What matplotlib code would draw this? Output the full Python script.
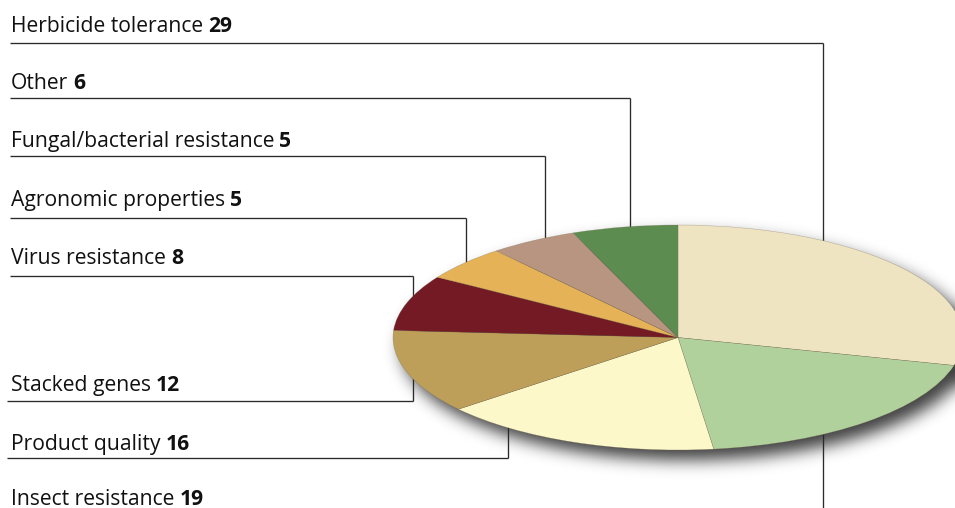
import numpy as np
import matplotlib
matplotlib.use("Agg")
import matplotlib.pyplot as plt

# GM crop traits field trials (share, %)
categories = ["Herbicide tolerance", "Insect resistance", "Product quality",
              "Stacked genes", "Virus resistance", "Agronomic properties",
              "Fungal/bacterial resistance", "Other"]
values = [29, 19, 16, 12, 8, 5, 5, 6]
colors = ["#EEE4C2", "#B1D19C", "#FDF8C9", "#BD9F5A", "#731A24",
          "#E5B257", "#B89580", "#5D8C50"]

W, H = 955, 508
fig = plt.figure(figsize=(W / 100, H / 100), dpi=100)
fig.patch.set_facecolor("white")

# background axes in pixel units for labels, leader lines and shadow
bg = fig.add_axes([0, 0, 1, 1])
bg.set_xlim(0, W)
bg.set_ylim(H, 0)
bg.axis("off")

# pie geometry (pixels): flattened disc
cx, cy, rx, ry = 678.0, 337.5, 285.0, 112.5

# soft drop shadow under the disc
yy, xx = np.mgrid[0:H, 0:W] + 0.5
sdx, sdy = 8.0, 10.0
mask = (((xx - cx - sdx) / rx) ** 2 + ((yy - cy - sdy) / ry) ** 2 <= 1).astype(float)

def gauss_blur(img, sigma):
    r = int(3 * sigma)
    k = np.exp(-0.5 * (np.arange(-r, r + 1) / sigma) ** 2)
    k /= k.sum()
    pad = np.pad(img, r, mode="edge")
    tmp = np.apply_along_axis(lambda v: np.convolve(v, k, mode="valid"), 1, pad)
    out = np.apply_along_axis(lambda v: np.convolve(v, k, mode="valid"), 0, tmp)
    return out

shadow = gauss_blur(mask, 8.0)
rgba = np.zeros((H, W, 4))
rgba[..., 3] = 0.75 * shadow
bg.imshow(rgba, extent=(0, W, H, 0), zorder=1, interpolation="bilinear")

# leader lines: (label baseline y, line y, line start x, end x, vertical end y)
leaders = {
    "Herbicide tolerance":         (32.3, 42.5, 10, 823, 300),
    "Other":                       (88.8, 98.3, 10, 630, 260),
    "Fungal/bacterial resistance": (147.3, 156.0, 10, 545, 270),
    "Agronomic properties":        (205.8, 218.3, 10, 466, 280),
    "Virus resistance":            (264.0, 276.0, 10, 413, 320),
    "Stacked genes":               (391.0, 400.5, 7, 413, 360),
    "Product quality":             (450.0, 458.3, 7, 508, 420),
    "Insect resistance":           (505.0, 520.0, 7, 823, 420),
}

lc = "#2a2a2a"
lw = 0.95
family = ["Open Sans", "DejaVu Sans"]
fs = 15.2

fig.canvas.draw()
renderer = fig.canvas.get_renderer()
for name, val in zip(categories, values):
    ty, ly, x0, x1, vy = leaders[name]
    bg.plot([x0, x1], [ly, ly], color=lc, lw=lw, zorder=2, solid_capstyle="butt")
    bg.plot([x1, x1], [ly, vy], color=lc, lw=lw, zorder=2, solid_capstyle="butt")
    t = bg.text(10.5, ty, name, fontsize=fs, family=family, va="baseline",
                ha="left", color="#111111", zorder=3)
    bb = t.get_window_extent(renderer=renderer)
    xend = bg.transData.inverted().transform((bb.x1, bb.y0))[0]
    bg.text(xend + 5.5, ty, str(val), fontsize=fs, family=family,
            fontweight="bold", va="baseline", ha="left", color="#111111", zorder=3)

# pie drawn in its own axes, stretched into an ellipse
pax = fig.add_axes([(cx - rx) / W, (H - cy - ry) / H, 2 * rx / W, 2 * ry / H])
pax.set_zorder(5)
pax.patch.set_alpha(0)
pax.pie(values, colors=colors, startangle=90, counterclock=False, radius=1,
        wedgeprops=dict(edgecolor=(0.45, 0.40, 0.30, 0.45), linewidth=0.35))
pax.set_aspect("auto")
pax.set_xlim(-1, 1)
pax.set_ylim(-1, 1)
pax.axis("off")

fig.savefig("out.png", dpi=100, facecolor="white")
